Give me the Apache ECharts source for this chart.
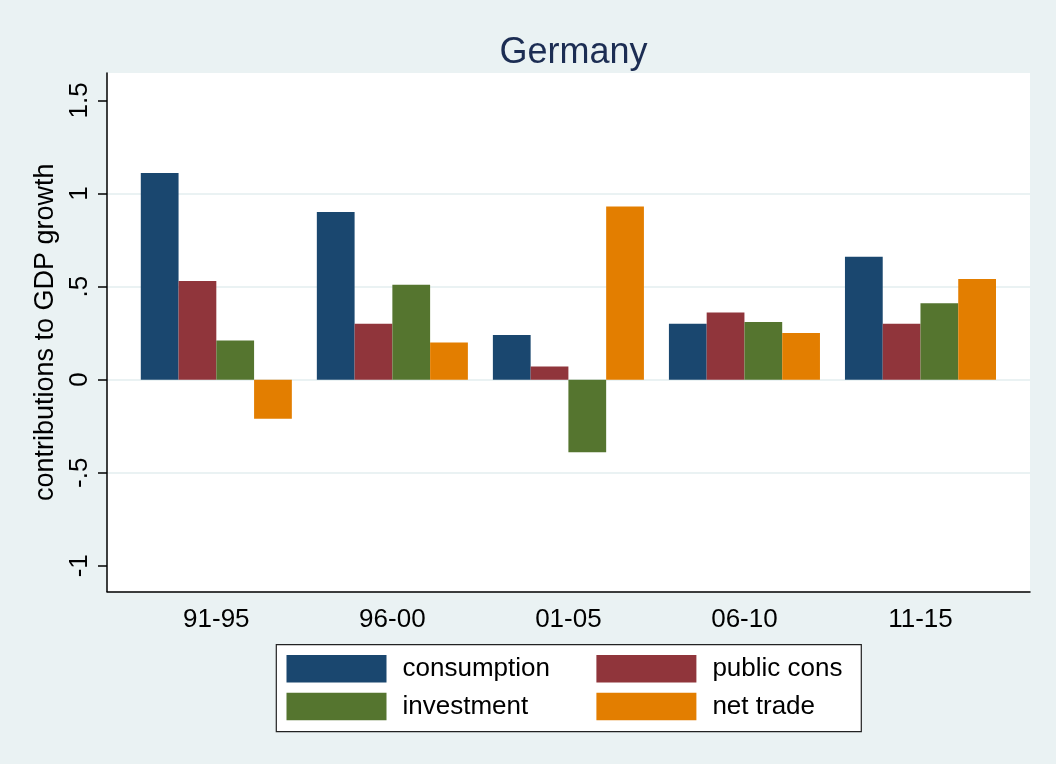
<!DOCTYPE html>
<html>
<head>
<meta charset="utf-8">
<script src="https://cdn.jsdelivr.net/npm/echarts@6/dist/echarts.min.js"></script>
<style>
html,body{margin:0;padding:0;background:#EAF2F3;}
#c{width:1056px;height:764px;}
</style>
</head>
<body>
<div id="c"></div>
<script>
const categories = ['91-95', '96-00', '01-05', '06-10', '11-15'];
const consumption = [1.11, 0.90, 0.24, 0.30, 0.66];
const publicCons = [0.53, 0.30, 0.07, 0.36, 0.30];
const investment = [0.21, 0.51, -0.39, 0.31, 0.41];
const netTrade = [-0.21, 0.20, 0.93, 0.25, 0.54];
const seriesNames = ['consumption', 'public cons', 'investment', 'net trade'];
const yTickValues = [-1, -0.5, 0, 0.5, 1, 1.5];
const yTickLabels = ['-1', '-.5', '0', '.5', '1', '1.5'];
const Y_MIN = -1.138;
const Y_MAX = 1.647;

const FONT = "'Liberation Sans', Arial, Helvetica, sans-serif";
const colors = ['#1A476F', '#90353B', '#55752F', '#E37E00'];
const gridCol = '#EAF2F3';
const trans = 'rgba(0,0,0,0)';

const chart = echarts.init(document.getElementById('c'), null, {renderer: 'canvas'});

function yLabel(v) {
  const i = yTickValues.findIndex(t => Math.abs(t - v) < 1e-9);
  return i >= 0 ? yTickLabels[i] : '';
}

const seriesData = [consumption, publicCons, investment, netTrade];

const legendText = {fontSize: 26, color: '#000', lineHeight: 20, padding: [7, 0, 0, 11], fontFamily: FONT};

const option = {
  animation: false,
  backgroundColor: '#EAF2F3',
  textStyle: {fontFamily: FONT},
  title: {
    text: 'Germany',
    left: 568.5,
    textAlign: 'center',
    top: 30,
    textStyle: {fontSize: 36, fontWeight: 'normal', color: '#1C2D53', fontFamily: FONT}
  },
  grid: [
    {left: 107, right: 26, top: 73, bottom: 172.5, show: true, backgroundColor: '#ffffff', borderWidth: 0},
    {left: 128.3, right: 47.5, top: 73, bottom: 172.5}
  ],
  xAxis: [
    {
      gridIndex: 0, type: 'value', min: 0, max: 1,
      axisLine: {show: true, onZero: false, lineStyle: {color: '#000', width: 1.5}},
      axisTick: {show: false}, axisLabel: {show: false}, splitLine: {show: false}
    },
    {
      gridIndex: 1, type: 'category', data: categories,
      axisLine: {show: false}, axisTick: {show: false}, splitLine: {show: false},
      axisLabel: {fontSize: 26, color: '#000', margin: 15, fontFamily: FONT}
    }
  ],
  yAxis: [
    {
      gridIndex: 0, type: 'value', min: Y_MIN, max: Y_MAX,
      axisLine: {show: true, onZero: false, lineStyle: {color: '#000', width: 1.5}},
      axisTick: {show: true, length: 9, customValues: yTickValues, lineStyle: {color: '#000', width: 1.5}},
      axisLabel: {customValues: yTickValues, formatter: yLabel, rotate: 90, fontSize: 26, margin: 14, color: '#000', fontFamily: FONT},
      splitLine: {show: true, lineStyle: {color: [trans, gridCol, gridCol, gridCol, gridCol, trans], width: 2}},
      name: 'contributions to GDP growth',
      nameLocation: 'middle', nameGap: 38, nameRotate: 90,
      nameTextStyle: {fontSize: 27, color: '#000', fontFamily: FONT}
    },
    {gridIndex: 1, type: 'value', min: Y_MIN, max: Y_MAX, show: false, splitLine: {show: false}}
  ],
  legend: [
    {
      data: [seriesNames[0], seriesNames[2]], orient: 'vertical', left: 286.5, top: 655,
      icon: 'rect', itemWidth: 100, itemHeight: 27.5, itemGap: 10.2, padding: 0,
      textStyle: legendText
    },
    {
      data: [seriesNames[1], seriesNames[3]], orient: 'vertical', left: 596.4, top: 655,
      icon: 'rect', itemWidth: 100, itemHeight: 27.5, itemGap: 10.2, padding: 0,
      textStyle: legendText
    }
  ],
  graphic: [
    {type: 'rect', left: 275.7, top: 644, z: 0,
     shape: {width: 585, height: 87},
     style: {fill: '#ffffff', stroke: '#222', lineWidth: 1.2}}
  ],
  series: seriesData.map((d, i) => ({
    type: 'bar', name: seriesNames[i], data: d,
    xAxisIndex: 1, yAxisIndex: 1,
    barGap: '0%', barCategoryGap: '14.2%',
    itemStyle: {color: colors[i]}
  }))
};

chart.setOption(option);
</script>
</body>
</html>
